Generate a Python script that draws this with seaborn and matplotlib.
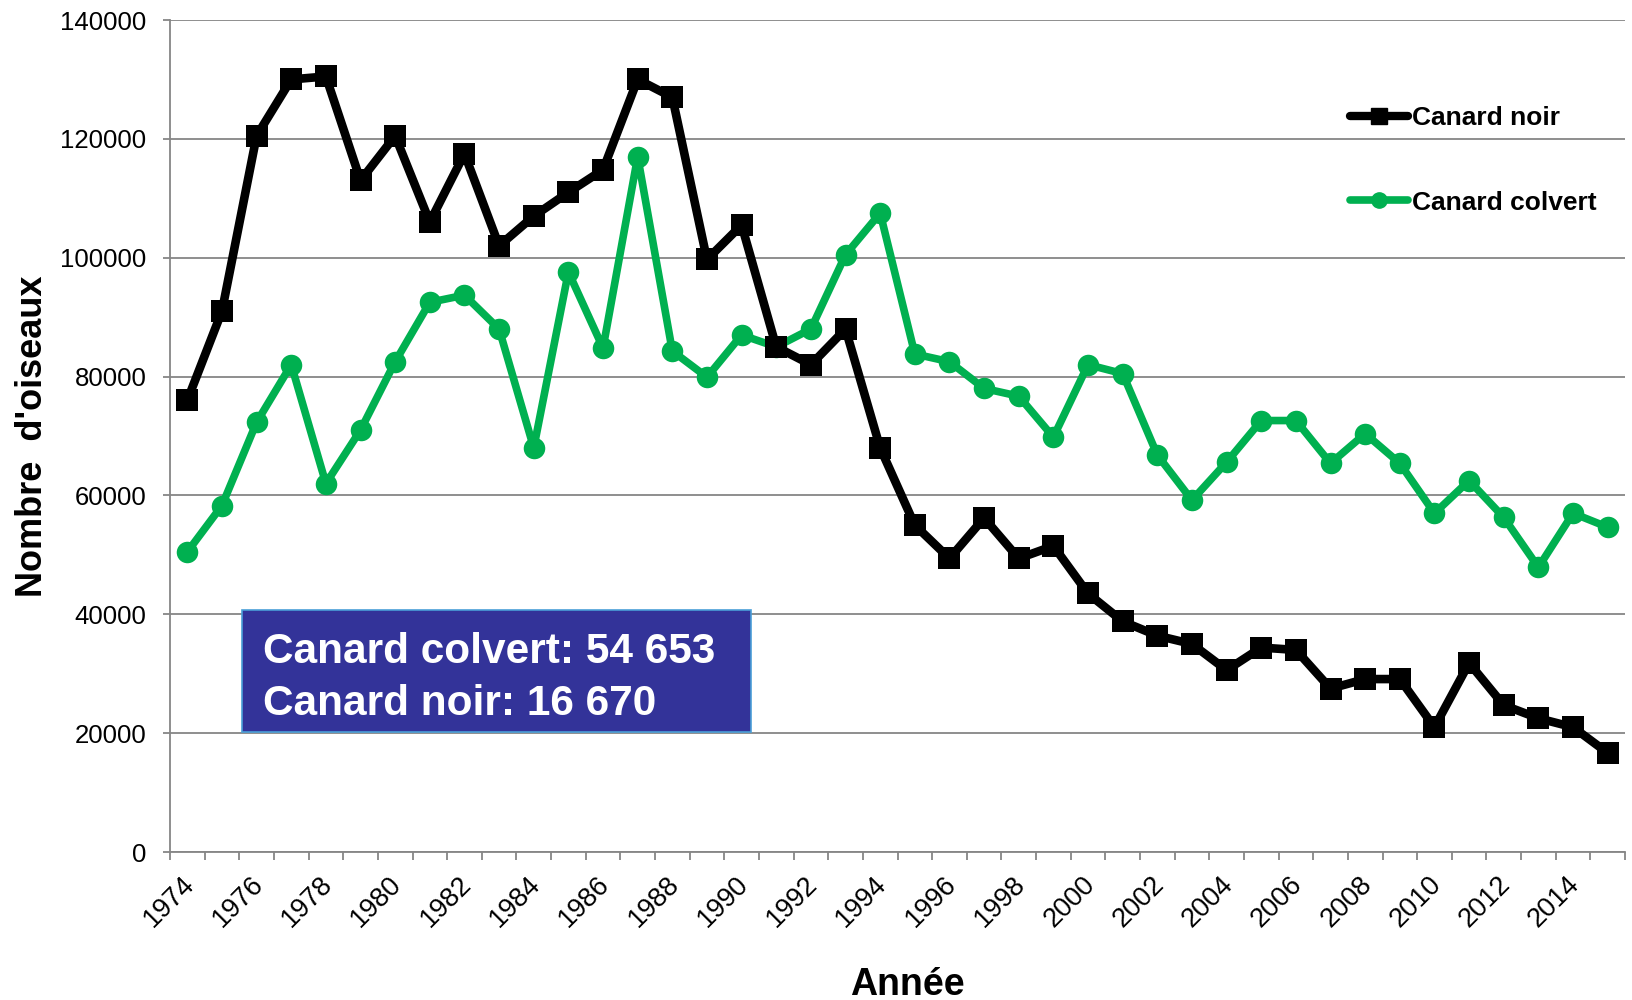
import numpy as np
import pandas as pd
import matplotlib
matplotlib.use('Agg')
import matplotlib.pyplot as plt
import matplotlib.transforms as mtransforms
import seaborn as sns
from matplotlib.patches import Rectangle
from matplotlib.lines import Line2D

# Données
annees = list(range(1974, 2016))
canard_noir = [76000, 91000, 120500, 130000, 130500, 113000, 120500, 106000, 117500, 102000,
               107000, 111000, 114800, 130000, 127000, 99700, 105500, 85000, 82000, 88000,
               68000, 55000, 49400, 56200, 49400, 51500, 43500, 38800, 36400, 35000,
               30600, 34400, 34000, 27500, 29100, 29100, 21000, 31800, 24700, 22500,
               21000, 16670]
canard_colvert = [50500, 58300, 72300, 82000, 62000, 71000, 82500, 92500, 93700, 88000,
                  68000, 97600, 84800, 117000, 84300, 79900, 87000, 85000, 88000, 100500,
                  107500, 83800, 82500, 78000, 76700, 69800, 82000, 80500, 66800, 59200,
                  65600, 72600, 72600, 65400, 70400, 65400, 57000, 62500, 56300, 47900,
                  57000, 54653]
texte_encadre = ["Canard colvert: 54 653", "Canard noir: 16 670"]

df = pd.DataFrame({'annee': annees, 'noir': canard_noir, 'colvert': canard_colvert})

sns.set_style('white')
plt.rcParams['font.family'] = ['Liberation Sans', 'DejaVu Sans']
plt.rcParams['text.color'] = 'black'
plt.rcParams['axes.labelcolor'] = 'black'

noir_col = '#000000'
vert_col = '#00B050'
gris = '#868686'

fig = plt.figure(figsize=(16.33, 10.0), dpi=100)
ax = fig.add_axes([170 / 1633, 148 / 1000, 1455 / 1633, 832 / 1000])

sns.lineplot(data=df, x='annee', y='colvert', ax=ax, color=vert_col, linewidth=5.5,
             marker='o', markersize=15.5, markeredgewidth=0, zorder=3)
sns.lineplot(data=df, x='annee', y='noir', ax=ax, color=noir_col, linewidth=6.2,
             marker='s', markersize=16, markeredgewidth=0, zorder=4)

ax.set_xlim(1973.5, 2015.5)
ax.set_ylim(0, 140000)
ax.set_yticks(np.arange(0, 140001, 20000))
ax.set_yticklabels([str(v) for v in range(0, 140001, 20000)])
ax.yaxis.grid(True, color=gris, linewidth=1.3)
ax.set_axisbelow(True)

ax.set_xticks(annees[::2])
ax.set_xticklabels([str(a) for a in annees[::2]], rotation=45, ha='right', va='top')
ax.set_xticks(np.arange(1973.5, 2015.6, 1), minor=True)
ax.tick_params(axis='x', which='major', length=0, pad=14, labelsize=19.5, labelcolor='black')
ax.tick_params(axis='x', which='minor', length=6, width=1.3, color=gris, bottom=True)
ax.tick_params(axis='y', which='major', length=5, width=1.3, color=gris, pad=12,
               labelsize=18.5, labelcolor='black', left=True)

# petit décalage des étiquettes d'années vers la droite
decalage = mtransforms.ScaledTranslation(12 / 100, 0, fig.dpi_scale_trans)
for lab in ax.get_xticklabels():
    lab.set_transform(lab.get_transform() + decalage)

for s in ['top', 'right']:
    ax.spines[s].set_visible(False)
for s in ['left', 'bottom']:
    ax.spines[s].set_color(gris)
    ax.spines[s].set_linewidth(1.3)

ax.set_xlabel('Année', fontsize=27, fontweight='bold')
ax.set_ylabel("Nombre  d'oiseaux", fontsize=26, fontweight='bold')
ax.xaxis.set_label_coords(0.507, -0.138)
ax.yaxis.set_label_coords(-0.0824, 0.5)

# Encadré bleu
ax.add_patch(Rectangle((0.0495, 0.1442), 0.3495, 0.1466, transform=ax.transAxes,
                       facecolor='#333399', edgecolor='#4A9FD8', linewidth=1.2, zorder=5))
ax.text(0.0639, 0.227, texte_encadre[0], transform=ax.transAxes, color='white',
        fontsize=30.5, fontweight='bold', va='baseline', zorder=6)
ax.text(0.0639, 0.1647, texte_encadre[1], transform=ax.transAxes, color='white',
        fontsize=30.5, fontweight='bold', va='baseline', zorder=6)

# Légende
handles = [Line2D([], [], color=noir_col, linewidth=6, marker='s', markersize=12),
           Line2D([], [], color=vert_col, linewidth=5.5, marker='o', markersize=11)]
leg = fig.legend(handles, ['Canard noir', 'Canard colvert'], loc='upper left',
                 bbox_to_anchor=(1350 / 1633, 1 - 106 / 1000), bbox_transform=fig.transFigure,
                 frameon=False, borderpad=0, borderaxespad=0, handlelength=2.2,
                 handletextpad=0.15, labelspacing=2.3, prop={'size': 19, 'weight': 'bold'})

fig.savefig('out.png', dpi=100)
